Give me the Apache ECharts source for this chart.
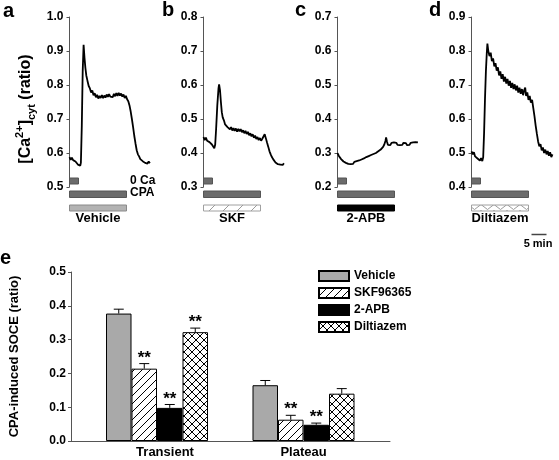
<!DOCTYPE html>
<html><head><meta charset="utf-8">
<script src="https://cdn.jsdelivr.net/npm/echarts/dist/echarts.min.js"></script>
<style>html,body{margin:0;padding:0;background:#fff}#c{width:559px;height:460px}</style>
</head><body><div id="c"></div>
<script>
// ---------- DATA ----------
// time (min), ratio
const traceA = [[0,0.588],[0.4,0.580],[0.8,0.586],[1.2,0.579],[1.6,0.583],[2.0,0.575],[2.4,0.571],[2.8,0.566],[3.2,0.569],[3.6,0.563],[3.8,0.572],[4.1,0.680],[4.4,0.840],[4.7,0.918],[5.0,0.880],[5.3,0.850],[5.6,0.828],[6.0,0.812],[6.4,0.797],[6.8,0.790],[7.2,0.778],[7.6,0.784],[8.0,0.770],[8.4,0.776],[8.8,0.764],[9.2,0.771],[9.6,0.760],[10.0,0.768],[10.4,0.762],[10.8,0.770],[11.2,0.761],[11.6,0.769],[12.0,0.763],[12.4,0.772],[12.8,0.765],[13.2,0.773],[13.6,0.766],[14.0,0.771],[14.4,0.764],[14.8,0.774],[15.2,0.767],[15.6,0.776],[16.0,0.768],[16.4,0.777],[16.8,0.769],[17.2,0.775],[17.6,0.766],[18.0,0.772],[18.4,0.762],[18.8,0.768],[19.2,0.758],[19.6,0.752],[20.0,0.740],[20.4,0.722],[20.8,0.700],[21.2,0.676],[21.6,0.650],[22.0,0.628],[22.4,0.608],[22.8,0.596],[23.2,0.590],[23.6,0.582],[24.0,0.586],[24.4,0.576],[24.8,0.580],[25.2,0.571],[25.6,0.576],[26.0,0.569],[26.4,0.575],[26.8,0.570]];
const traceB = [[0,0.447],[0.4,0.438],[0.8,0.445],[1.2,0.436],[1.6,0.441],[2.0,0.432],[2.4,0.437],[2.8,0.425],[3.2,0.420],[3.6,0.414],[3.9,0.425],[4.2,0.470],[4.6,0.540],[5.0,0.590],[5.2,0.602],[5.5,0.585],[5.8,0.550],[6.1,0.520],[6.4,0.505],[6.8,0.496],[7.2,0.484],[7.6,0.489],[8.0,0.476],[8.4,0.481],[8.8,0.470],[9.2,0.476],[9.6,0.466],[10.0,0.473],[10.4,0.465],[10.8,0.472],[11.2,0.463],[11.6,0.471],[12.0,0.464],[12.4,0.470],[12.8,0.461],[13.2,0.467],[13.6,0.458],[14.0,0.465],[14.4,0.456],[14.8,0.462],[15.2,0.452],[15.6,0.458],[16.0,0.449],[16.4,0.455],[16.8,0.445],[17.2,0.451],[17.6,0.441],[18.0,0.447],[18.4,0.438],[18.8,0.444],[19.2,0.436],[19.6,0.442],[20.0,0.446],[20.4,0.455],[20.8,0.443],[21.2,0.430],[21.6,0.418],[22.0,0.405],[22.4,0.396],[22.8,0.388],[23.2,0.382],[23.6,0.377],[24.0,0.372],[24.4,0.376],[24.8,0.367],[25.2,0.372],[25.6,0.366],[26.0,0.371],[26.4,0.365],[26.8,0.370]];
const traceC = [[0,0.300],[0.4,0.292],[0.8,0.288],[1.2,0.282],[1.6,0.279],[2.0,0.275],[2.4,0.278],[2.8,0.271],[3.2,0.274],[3.6,0.268],[4.0,0.273],[4.4,0.267],[4.8,0.272],[5.2,0.268],[5.6,0.274],[6.0,0.270],[6.4,0.276],[6.8,0.272],[7.2,0.278],[7.6,0.274],[8.0,0.281],[8.4,0.277],[8.8,0.284],[9.2,0.280],[9.6,0.288],[10.0,0.284],[10.4,0.291],[10.8,0.287],[11.2,0.294],[11.6,0.290],[12.0,0.297],[12.4,0.293],[12.8,0.300],[13.2,0.297],[13.6,0.305],[14.0,0.302],[14.4,0.310],[14.8,0.314],[15.2,0.318],[15.6,0.325],[16.0,0.336],[16.2,0.346],[16.5,0.333],[16.8,0.324],[17.2,0.329],[17.6,0.323],[18.0,0.330],[18.4,0.325],[18.8,0.331],[19.2,0.326],[19.6,0.330],[20.0,0.324],[20.4,0.329],[20.8,0.323],[21.2,0.328],[21.6,0.324],[22.0,0.330],[22.4,0.325],[22.8,0.329],[23.2,0.323],[23.6,0.328],[24.0,0.324],[24.4,0.330],[24.8,0.326],[25.2,0.331],[25.6,0.327],[26.0,0.332],[26.4,0.328],[26.8,0.331]];
const traceD = [[0,0.505],[0.4,0.496],[0.8,0.502],[1.2,0.490],[1.6,0.495],[2.0,0.484],[2.4,0.489],[2.8,0.478],[3.2,0.485],[3.6,0.476],[3.9,0.488],[4.2,0.560],[4.5,0.660],[4.8,0.740],[5.1,0.795],[5.3,0.822],[5.6,0.800],[6.0,0.785],[6.4,0.795],[6.8,0.770],[7.2,0.778],[7.6,0.755],[8.0,0.764],[8.4,0.742],[8.8,0.752],[9.2,0.728],[9.6,0.740],[10.0,0.718],[10.4,0.732],[10.8,0.710],[11.2,0.724],[11.6,0.704],[12.0,0.718],[12.4,0.698],[12.8,0.712],[13.2,0.692],[13.6,0.706],[14.0,0.688],[14.4,0.702],[14.8,0.684],[15.2,0.698],[15.6,0.678],[16.0,0.692],[16.4,0.674],[16.8,0.688],[17.2,0.670],[17.6,0.686],[17.9,0.692],[18.2,0.668],[18.6,0.678],[19.0,0.656],[19.4,0.668],[19.8,0.648],[20.2,0.656],[20.6,0.632],[21.0,0.608],[21.4,0.580],[21.8,0.556],[22.2,0.534],[22.6,0.520],[23.0,0.526],[23.4,0.508],[23.8,0.516],[24.2,0.500],[24.6,0.510],[25.0,0.496],[25.4,0.506],[25.8,0.492],[26.2,0.502],[26.6,0.488],[27.0,0.496]];
const panelTraces = [traceA, traceB, traceC, traceD];
const panelLetters = ['a','b','c','d'];
const panelYRange = [[0.5,1.0],[0.3,0.8],[0.2,0.7],[0.4,0.9]];
const panelDrugs = ['Vehicle','SKF','2-APB','Diltiazem'];
// protocol intervals in minutes: [start, end, row]  row 0 = 0 Ca, 1 = CPA, 2 = drug
const protocolIntervals = [[0,3,0],[0,19,1],[0,19,2]];
const protocolNames = ['0 Ca','CPA'];
const scaleBar = [[20,25]];
const scaleBarLabel = '5 min';
const timeRange = [0,27];

// panel e
const categories = ['Transient','Plateau'];
const barNames = ['Vehicle','SKF96365','2-APB','Diltiazem'];
const vehicleMean = [0.377,0.165];   const vehicleErr = [0.013,0.014];
const skfMean = [0.214,0.063];       const skfErr = [0.015,0.013];
const apbMean = [0.098,0.048];       const apbErr = [0.010,0.005];
const diltMean = [0.322,0.140];      const diltErr = [0.012,0.015];
const vehicleSig = [0,0]; const skfSig = [1,1]; const apbSig = [1,1]; const diltSig = [1,0];
const eYRange = [0,0.5];

// ---------- STYLE / LAYOUT ----------
const FONT = "'Liberation Sans', Arial, Helvetica, sans-serif";
const AXIS_C = '#555';
const panelLeft = [69.5, 203.5, 337.5, 471.5];
const PANEL_TOP = 17, PANEL_H = 170, PANEL_W = 81;
const BAR_W = 25.5, CAP = 5;

function pat(kind){
  const c = document.createElement('canvas');
  let w = 8, h = 8;
  if (kind === 'zig') { w = 13; h = 6; }
  if (kind === 'diagLight') { w = 14; h = 14; }
  c.width = w; c.height = h;
  const g = c.getContext('2d');
  g.fillStyle = '#fff'; g.fillRect(0,0,w,h);
  g.lineWidth = 1;
  g.strokeStyle = (kind === 'diagLight' || kind === 'zig') ? '#9a9a9a' : '#000';
  g.beginPath();
  if (kind === 'diag' || kind === 'diagLight' || kind === 'cross') {
    g.moveTo(0,h); g.lineTo(w,0);
    g.moveTo(-1,1); g.lineTo(1,-1);
    g.moveTo(w-1,h+1); g.lineTo(w+1,h-1);
  }
  if (kind === 'cross') {
    g.moveTo(0,0); g.lineTo(w,h);
    g.moveTo(-1,h-1); g.lineTo(1,h+1);
    g.moveTo(w-1,-1); g.lineTo(w+1,1);
  }
  if (kind === 'zig') {
    g.moveTo(0,0.5); g.lineTo(w/2,h-0.5); g.lineTo(w,0.5);
  }
  g.stroke();
  return {image: c, repeat: 'repeat'};
}

const drugStyles = [
  {fill:'#b3b3b3', stroke:'#8a8a8a'},
  {fill:pat('diagLight'), stroke:'#a0a0a0'},
  {fill:'#000', stroke:'#000'},
  {fill:pat('zig'), stroke:'#a0a0a0'}
];
const barFills = ['#a9a9a9', pat('diag'), '#000', pat('cross')];

function protoRender(panel){
  return function(params, api){
    const cs = params.coordSys;
    const bottom = cs.y + cs.height;
    const row = api.value(2);
    const x0 = api.coord([api.value(0), panelYRange[panel][0]])[0];
    const x1 = api.coord([api.value(1), panelYRange[panel][0]])[0];
    const offs = [-9.5, 3.5, 17.5], hs = [6, 6.5, 6];
    let st = {fill:'#6b6b6b', stroke:'#555', lineWidth:1};
    if (row === 2) st = {fill: drugStyles[panel].fill, stroke: drugStyles[panel].stroke, lineWidth:1};
    const children = [{type:'rect', shape:{x:x0, y:Math.round(bottom+offs[row]), width:x1-x0, height:hs[row]}, style:st}];
    if (row === 2) {
      children.push({type:'text', style:{text:panelDrugs[panel], x:(x0+x1)/2, y:bottom+31,
        align:'center', verticalAlign:'middle', textAlign:'center', textVerticalAlign:'middle',
        font:'bold 13px ' + FONT, fill:'#000'}});
    }
    return {type:'group', children};
  };
}

function scaleRender(params, api){
  const cs = params.coordSys;
  const bottom = cs.y + cs.height;
  const x0 = api.coord([api.value(0), 0.5])[0];
  const x1 = api.coord([api.value(1), 0.5])[0];
  return {type:'group', children:[
    {type:'line', shape:{x1:x0, y1:bottom+47.5, x2:x1, y2:bottom+47.5}, style:{stroke:'#444', lineWidth:1.5}},
    {type:'text', style:{text:scaleBarLabel, x:(x0+x1)/2-1, y:bottom+57, align:'center', verticalAlign:'middle',
      textAlign:'center', textVerticalAlign:'middle', font:'bold 11px ' + FONT, fill:'#000'}}
  ]};
}

const grids = [], xAxes = [], yAxes = [], series = [];
for (let i = 0; i < 4; i++) {
  grids.push({left: panelLeft[i], top: PANEL_TOP, width: PANEL_W, height: PANEL_H});
  xAxes.push({type:'value', gridIndex:i, min:timeRange[0], max:timeRange[1], show:false});
  const y = {type:'value', gridIndex:i, min:panelYRange[i][0], max:panelYRange[i][1], interval:0.1,
    axisLine:{show:true, onZero:false, lineStyle:{color:AXIS_C, width:1}},
    axisTick:{show:true, inside:false, length:3, lineStyle:{color:AXIS_C}},
    splitLine:{show:false},
    axisLabel:{show:true, margin:6, color:'#000', fontWeight:'bold', fontSize:12, fontFamily:FONT,
      formatter: v => v.toFixed(1)}};
  if (i === 0) {
    y.name = '{b|[Ca}{sup|2+}{b|]}{sub|cyt}{b| (ratio)}';
    y.nameLocation = 'middle';
    y.nameGap = 32;
    y.nameTextStyle = {padding:[0,14,0,0], rich:{
      b:{fontSize:16, fontWeight:'bold', fontFamily:FONT, color:'#000', lineHeight:23, verticalAlign:'middle'},
      sup:{fontSize:11, fontWeight:'bold', fontFamily:FONT, color:'#000', lineHeight:23, verticalAlign:'top'},
      sub:{fontSize:11, fontWeight:'bold', fontFamily:FONT, color:'#000', lineHeight:23, verticalAlign:'bottom'}
    }};
  }
  yAxes.push(y);
  series.push({type:'line', xAxisIndex:i, yAxisIndex:i, data:panelTraces[i], showSymbol:false, symbol:'none',
    lineStyle:{color:'#000', width:1.8}, silent:true, animation:false, z:3});
  series.push({type:'custom', xAxisIndex:i, yAxisIndex:i, data:protocolIntervals, renderItem:protoRender(i),
    clip:false, silent:true, animation:false, z:2});
}
series.push({type:'custom', xAxisIndex:3, yAxisIndex:3, data:scaleBar, renderItem:scaleRender, clip:false, silent:true, animation:false});

// panel e: axis grid (4) and bar grid (5)
grids.push({left:68, top:272, width:322, height:169});
grids.push({left:83.75, top:272, width:293, height:169});
xAxes.push({type:'value', gridIndex:4, min:0, max:1,
  axisLine:{show:true, lineStyle:{color:AXIS_C, width:1}}, axisTick:{show:false}, axisLabel:{show:false}, splitLine:{show:false}});
yAxes.push({type:'value', gridIndex:4, min:eYRange[0], max:eYRange[1], interval:0.1,
  axisLine:{show:true, lineStyle:{color:AXIS_C, width:1}},
  axisTick:{show:true, length:3, lineStyle:{color:AXIS_C}}, splitLine:{show:false},
  axisLabel:{margin:5, color:'#000', fontWeight:'bold', fontSize:12, fontFamily:FONT, formatter:v => v.toFixed(1)},
  name:'CPA-induced SOCE (ratio)', nameLocation:'middle', nameGap:50,
  nameTextStyle:{fontSize:13, fontWeight:'bold', fontFamily:FONT, color:'#000'}});
xAxes.push({type:'category', gridIndex:5, data:categories,
  axisLine:{show:false}, axisTick:{show:false},
  axisLabel:{margin:5, color:'#000', fontWeight:'bold', fontSize:13, fontFamily:FONT,
    formatter: v => v === 'Transient' ? '{t|' + v + '}' : v,
    rich:{t:{padding:[0,0,0,16], color:'#000', fontWeight:'bold', fontSize:13, fontFamily:FONT}}}});
yAxes.push({type:'value', gridIndex:5, min:eYRange[0], max:eYRange[1], show:false});

const means = [vehicleMean, skfMean, apbMean, diltMean];
const errs = [vehicleErr, skfErr, apbErr, diltErr];
const sigs = [vehicleSig, skfSig, apbSig, diltSig];
for (let k = 0; k < 4; k++) {
  series.push({type:'bar', name:barNames[k], xAxisIndex:5, yAxisIndex:5, data:means[k],
    barWidth:BAR_W, barGap:'0%', animation:false, silent:true,
    itemStyle:{color:barFills[k], borderColor:'#000', borderWidth:1}});
}
const errData = [];
for (let k = 0; k < 4; k++) for (let c = 0; c < categories.length; c++)
  errData.push([c, means[k][c], errs[k][c], sigs[k][c], k]);
series.push({type:'custom', xAxisIndex:5, yAxisIndex:5, data:errData, clip:false, silent:true, animation:false, z:5,
  renderItem(params, api){
    const c = api.value(0), m = api.value(1), e = api.value(2), s = api.value(3), k = api.value(4);
    const p = api.coord([c, m]); const t = api.coord([c, m + e]);
    const x = p[0] + (k - 1.5) * BAR_W;
    const ch = [
      {type:'line', shape:{x1:x, y1:p[1], x2:x, y2:t[1]}, style:{stroke:'#000', lineWidth:1}},
      {type:'line', shape:{x1:x-CAP, y1:t[1], x2:x+CAP, y2:t[1]}, style:{stroke:'#000', lineWidth:1}}
    ];
    if (s) ch.push({type:'text', style:{text:'**', x:x, y:t[1]+3, align:'center', verticalAlign:'bottom',
      textAlign:'center', textVerticalAlign:'bottom', font:'bold 17px ' + FONT, fill:'#000'}});
    return {type:'group', children:ch};
  }});

const graphics = [
  {type:'text', left:3, top:1, style:{text:'a', font:'bold 20px ' + FONT, fill:'#000'}},
  {type:'text', left:162, top:0, style:{text:'b', font:'bold 20px ' + FONT, fill:'#000'}},
  {type:'text', left:295, top:0, style:{text:'c', font:'bold 20px ' + FONT, fill:'#000'}},
  {type:'text', left:429, top:0, style:{text:'d', font:'bold 20px ' + FONT, fill:'#000'}},
  {type:'text', left:0, top:248, style:{text:'e', font:'bold 20px ' + FONT, fill:'#000'}},
  {type:'text', left:130, top:174.5, style:{text:protocolNames[0], font:'bold 12px ' + FONT, fill:'#000'}},
  {type:'text', left:130, top:187, style:{text:protocolNames[1], font:'bold 12px ' + FONT, fill:'#000'}}
];

const chart = echarts.init(document.getElementById('c'), null, {renderer:'canvas'});
chart.setOption({
  animation:false,
  textStyle:{fontFamily:FONT},
  grid:grids, xAxis:xAxes, yAxis:yAxes, series:series, graphic:graphics,
  legend:{data:barNames, orient:'vertical', left:313, top:265, itemWidth:30, itemHeight:10, itemGap:5,
    icon:'rect', selectedMode:false,
    textStyle:{fontSize:12, fontWeight:'bold', color:'#000', fontFamily:FONT, lineHeight:10}}
});
</script></body></html>
